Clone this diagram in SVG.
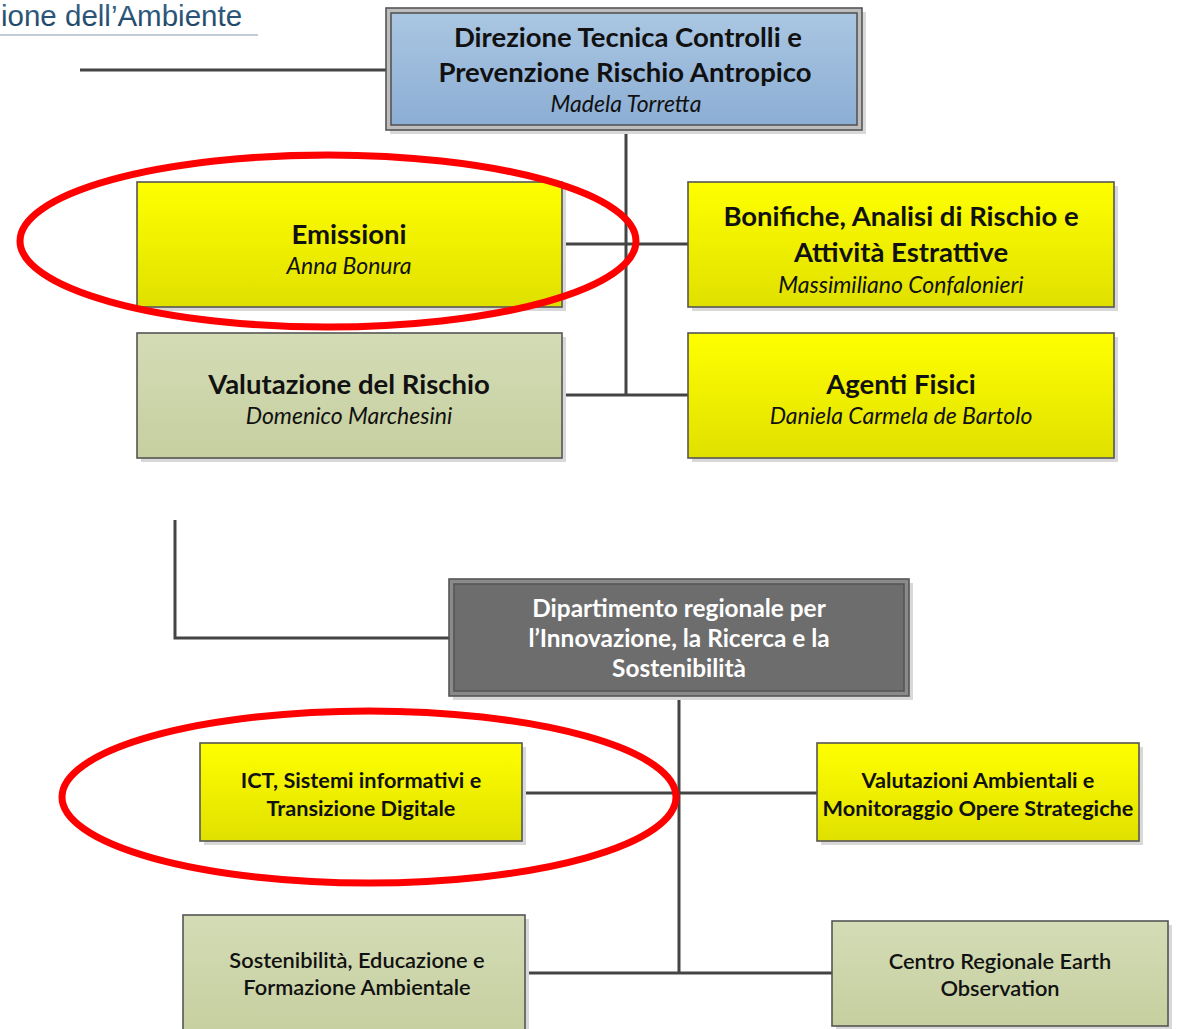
<svg xmlns="http://www.w3.org/2000/svg" width="1179" height="1029" viewBox="0 0 1179 1029">
<defs>
<linearGradient id="gBlue" x1="0" y1="0" x2="0" y2="1"><stop offset="0" stop-color="#aac6e2"/><stop offset="1" stop-color="#8caed4"/></linearGradient>
<linearGradient id="gYel" x1="0" y1="0" x2="0" y2="1"><stop offset="0" stop-color="#ffff00"/><stop offset="1" stop-color="#e0e000"/></linearGradient>
<linearGradient id="gGrn" x1="0" y1="0" x2="0" y2="1"><stop offset="0" stop-color="#d4dcb6"/><stop offset="1" stop-color="#c6cf9f"/></linearGradient>
<linearGradient id="gHead" x1="0" y1="0" x2="0" y2="1"><stop offset="0" stop-color="#3a6a90"/><stop offset="1" stop-color="#1c3f5e"/></linearGradient>
</defs>
<style>
.box{stroke:#555;stroke-width:1.6}
.sh{fill:#d8d8d8}
.t{font-family:Lato,"Open Sans",sans-serif;text-anchor:middle;fill:#111}
.b{font-weight:bold;font-size:27.5px}
.i{font-style:italic;font-size:23px}
.s{font-weight:bold;font-size:21.7px}
.m{font-weight:600;font-size:21.8px}
.w{fill:#fff;font-weight:bold;font-size:24.4px}
.con{stroke:#444;stroke-width:3;fill:none}
.red{fill:none;stroke:#ff0000;stroke-width:7}
</style>
<rect width="1179" height="1029" fill="#fff"/>
<g id="header">
<text x="1" y="26" style="font-family:'Liberation Sans',Arial,sans-serif;font-size:29.5px;fill:url(#gHead)">ione dell’Ambiente</text>
<line x1="0" y1="35" x2="258" y2="35" stroke="#c4ccd6" stroke-width="2"/>
</g>
<g id="connectors">
<path class="con" d="M80 70H386"/>
<path class="con" d="M626 130V395"/>
<path class="con" d="M562 244H688"/>
<path class="con" d="M562 395H688"/>
<path class="con" d="M175 520V638H449"/>
<path class="con" d="M679 696V973"/>
<path class="con" d="M522 793H817"/>
<path class="con" d="M525 973H832"/>
</g>
<g id="n-direzione">
<rect class="sh" x="390" y="12" width="476" height="122"/>
<rect class="box" x="386" y="8" width="476" height="122" fill="#bdbdbd"/>
<rect class="box" x="391" y="13" width="466" height="112" fill="url(#gBlue)"/>
<text class="t b" x="628" y="47">Direzione Tecnica Controlli e</text>
<text class="t b" x="625" y="82">Prevenzione Rischio Antropico</text>
<text class="t i" x="626" y="112">Madela Torretta</text>
</g>
<g id="n-emissioni">
<rect class="sh" x="141" y="186" width="425" height="125"/>
<rect class="box" x="137" y="182" width="425" height="125" fill="url(#gYel)"/>
<text class="t b" x="349" y="244">Emissioni</text>
<text class="t i" x="349" y="274">Anna Bonura</text>
</g>
<g id="n-bonifiche">
<rect class="sh" x="692" y="186" width="426" height="125"/>
<rect class="box" x="688" y="182" width="426" height="125" fill="url(#gYel)"/>
<text class="t b" x="901" y="226">Bonifiche, Analisi di Rischio e</text>
<text class="t b" x="901" y="262">Attività Estrattive</text>
<text class="t i" x="901" y="293">Massimiliano Confalonieri</text>
</g>
<g id="n-valutazione">
<rect class="sh" x="141" y="337" width="425" height="125"/>
<rect class="box" x="137" y="333" width="425" height="125" fill="url(#gGrn)"/>
<text class="t b" x="349" y="394">Valutazione del Rischio</text>
<text class="t i" x="349" y="424">Domenico Marchesini</text>
</g>
<g id="n-agenti">
<rect class="sh" x="692" y="337" width="426" height="125"/>
<rect class="box" x="688" y="333" width="426" height="125" fill="url(#gYel)"/>
<text class="t b" x="901" y="394">Agenti Fisici</text>
<text class="t i" x="901" y="424">Daniela Carmela de Bartolo</text>
</g>
<g id="n-dipartimento">
<rect class="sh" x="453" y="583" width="460" height="117"/>
<rect class="box" x="449" y="579" width="460" height="117" fill="#8a8a8a"/>
<rect class="box" x="454" y="584" width="450" height="107" fill="#6d6d6d"/>
<text class="t w" x="679" y="617">Dipartimento regionale per</text>
<text class="t w" x="679" y="647">l’Innovazione, la Ricerca e la</text>
<text class="t w" x="679" y="677">Sostenibilità</text>
</g>
<g id="n-ict">
<rect class="sh" x="204" y="747" width="322" height="98"/>
<rect class="box" x="200" y="743" width="322" height="98" fill="url(#gYel)"/>
<text class="t s" x="361" y="788">ICT, Sistemi informativi e</text>
<text class="t s" x="361" y="816">Transizione Digitale</text>
</g>
<g id="n-valamb">
<rect class="sh" x="821" y="747" width="322" height="98"/>
<rect class="box" x="817" y="743" width="322" height="98" fill="url(#gYel)"/>
<text class="t s" x="978" y="788">Valutazioni Ambientali e</text>
<text class="t s" x="978" y="816">Monitoraggio Opere Strategiche</text>
</g>
<g id="n-sostenibilita">
<rect class="sh" x="187" y="919" width="342" height="115"/>
<rect class="box" x="183" y="915" width="342" height="118" fill="url(#gGrn)"/>
<text class="t m" x="357" y="968">Sostenibilità, Educazione e</text>
<text class="t m" x="357" y="995">Formazione Ambientale</text>
</g>
<g id="n-centro">
<rect class="sh" x="836" y="925" width="336" height="105"/>
<rect class="box" x="832" y="921" width="336" height="105" fill="url(#gGrn)"/>
<text class="t m" x="1000" y="969">Centro Regionale Earth</text>
<text class="t m" x="1000" y="996">Observation</text>
</g>
<g id="highlights">
<ellipse class="red" cx="328" cy="241" rx="308" ry="86"/>
<ellipse class="red" cx="369" cy="797" rx="307" ry="86"/>
</g>
</svg>
